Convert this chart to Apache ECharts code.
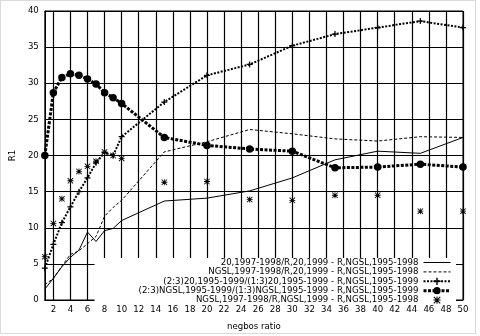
<!DOCTYPE html>
<html>
<head>
<meta charset="utf-8">
<script src="https://cdn.jsdelivr.net/npm/echarts@6/dist/echarts.min.js"></script>
<style>
  html, body { margin: 0; padding: 0; background: #fff; }
  #chart { width: 480px; height: 336px; }
</style>
</head>
<body>
<div id="chart"></div>
<script>
// neighbour ratio values sampled on the x axis
const ratios = [1, 2, 3, 4, 5, 6, 7, 8, 9, 10, 15, 20, 25, 30, 35, 40, 45, 50];

// R1 for each comparison
const r20 = [1.5, 3.0, 4.6, 5.9, 6.9, 9.4, 8.1, 9.6, 9.9, 11.0, 13.7, 14.1, 15.1, 16.9, 19.4, 20.6, 20.3, 22.5];
const rNgsl = [2.1, 3.0, 4.7, 6.3, 6.8, 7.8, 8.8, 11.6, 12.8, 13.8, 20.5, 21.9, 23.6, 23.0, 22.3, 22.0, 22.6, 22.5];
const r20Split = [4.4, 7.7, 10.7, 12.9, 15.0, 16.9, 19.0, 20.4, 20.0, 22.6, 27.4, 31.1, 32.6, 35.2, 36.8, 37.7, 38.6, 37.7];
const rNgslSplit = [20.0, 28.7, 30.8, 31.3, 31.1, 30.6, 29.9, 28.7, 28.0, 27.2, 22.5, 21.4, 20.9, 20.6, 18.3, 18.4, 18.8, 18.4];
const rNgslPts = [6.0, 10.6, 14.0, 16.5, 17.8, 18.5, 19.2, 20.5, 20.0, 19.6, 16.3, 16.4, 13.9, 13.8, 14.5, 14.5, 12.3, 12.3];

const seriesNames = [
  '20,1997-1998/R,20,1999 - R,NGSL,1995-1998',
  'NGSL,1997-1998/R,20,1999 - R,NGSL,1995-1998',
  '(2:3)20,1995-1999/(1:3)20,1995-1999 - R,NGSL,1995-1999',
  '(2:3)NGSL,1995-1999/(1:3)NGSL,1995-1999 - R,NGSL,1995-1999',
  'NGSL,1997-1998/R,NGSL,1999 - R,NGSL,1995-1998'
];

// tick labels along the x axis
const xTicks = [2, 4, 6, 8, 10, 12, 14, 16, 18, 20, 22, 24, 26, 28, 30, 32, 34, 36, 38, 40, 42, 44, 46, 48, 50];

const FONT = 'DejaVu Sans';
const INK = '#000';

// point glyphs
const PLUS = 'path://M4,0H6V4H10V6H6V10H4V6H0V4H4Z';
const STAR = 'path://M4.3,0H5.7V4.3H10V5.7H5.7V10H4.3V5.7H0V4.3H4.3Z' +
             'M0,1L1,0L10,9L9,10Z M9,0L10,1L1,10L0,9Z';

const pairs = vals => ratios.map((x, i) => [x, vals[i]]);

// line styles shared by the plotted series and their key entries
const styles = [
  { width: 1, type: 'solid' },
  { width: 1, type: [3, 2] },
  { width: 2, type: [2, 1.5] },
  { width: 3, type: [3, 1.5] },
  { width: 0, type: 'solid', opacity: 0 }
];

const chart = echarts.init(document.getElementById('chart'), null, { renderer: 'canvas' });

chart.setOption({
  animation: false,
  backgroundColor: '#fff',
  textStyle: { fontFamily: FONT, color: INK },
  grid: {
    left: 37, right: 17, top: 11, bottom: 29,
    show: true, borderColor: INK, borderWidth: 1, backgroundColor: 'transparent'
  },
  xAxis: {
    type: 'value',
    min: 1, max: 50,
    name: 'negbos ratio',
    nameLocation: 'middle',
    nameGap: 22,
    nameTextStyle: { fontFamily: FONT, fontSize: 8.6, color: INK },
    axisLine: { show: true, lineStyle: { color: INK, width: 1 } },
    axisTick: { show: true, inside: true, length: 4, customValues: xTicks, lineStyle: { color: INK } },
    axisLabel: { customValues: xTicks, margin: 5, fontFamily: FONT, fontSize: 8.6, color: INK },
    splitLine: { show: true, lineStyle: { color: INK, width: 1.2 } }
  },
  yAxis: [{
    type: 'value',
    min: 0, max: 40, interval: 5,
    name: 'R1',
    nameLocation: 'middle',
    nameGap: 25,
    nameTextStyle: { fontFamily: FONT, fontSize: 8.6, color: INK },
    axisLine: { show: true, lineStyle: { color: INK, width: 1 } },
    axisTick: { show: true, inside: true, length: 4, lineStyle: { color: INK } },
    axisLabel: { margin: 6, fontFamily: FONT, fontSize: 8.6, color: INK },
    splitLine: { show: true, lineStyle: { color: INK, width: 1.2 } }
  }, {
    type: 'value',
    position: 'right',
    min: 0, max: 40, interval: 5,
    axisLine: { show: false },
    axisTick: { show: true, inside: true, length: 5, lineStyle: { color: INK } },
    axisLabel: { show: false },
    splitLine: { show: false }
  }],
  legend: {
    orient: 'vertical',
    right: 24,
    top: 258,
    align: 'right',
    padding: [0, 4, 0, 44],
    backgroundColor: '#fff',
    itemWidth: 27,
    itemHeight: 9,
    itemGap: 0.4,
    selectedMode: false,
    textStyle: { fontFamily: FONT, fontSize: 8.6, color: INK },
    data: seriesNames.map((name, i) => ({
      name,
      itemStyle: { color: INK, opacity: i < 2 ? 0 : 1 },
      lineStyle: Object.assign({ color: INK }, styles[i])
    }))
  },
  series: [
    {
      name: seriesNames[0], type: 'line', data: pairs(r20),
      symbol: 'none',
      itemStyle: { color: INK },
      lineStyle: Object.assign({ color: INK }, styles[0])
    },
    {
      name: seriesNames[1], type: 'line', data: pairs(rNgsl),
      symbol: 'none',
      itemStyle: { color: INK },
      lineStyle: Object.assign({ color: INK }, styles[1])
    },
    {
      name: seriesNames[2], type: 'line', data: pairs(r20Split),
      symbol: PLUS, symbolSize: 6,
      itemStyle: { color: INK },
      lineStyle: Object.assign({ color: INK }, styles[2])
    },
    {
      name: seriesNames[3], type: 'line', data: pairs(rNgslSplit),
      symbol: 'circle', symbolSize: 7.5,
      itemStyle: { color: INK },
      lineStyle: Object.assign({ color: INK }, styles[3])
    },
    {
      name: seriesNames[4], type: 'line', data: pairs(rNgslPts),
      symbol: STAR, symbolSize: 6,
      itemStyle: { color: INK },
      lineStyle: Object.assign({ color: INK }, styles[4])
    }
  ],
  graphic: [{
    type: 'rect',
    silent: true,
    z: 100,
    shape: { x: 0.5, y: 0.5, width: 475, height: 333 },
    style: { fill: 'none', stroke: '#b4b4b4', lineWidth: 1, lineDash: [1, 1] }
  }]
});
</script>
</body>
</html>
